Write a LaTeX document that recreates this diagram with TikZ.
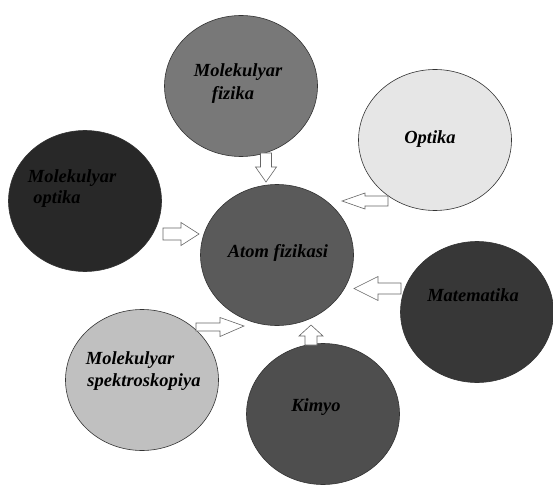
\documentclass[tikz,border=0pt]{standalone}
\usepackage{fontspec}
\setmainfont{Liberation Serif}
\usetikzlibrary{shapes.geometric}
\definecolor{cMF}{RGB}{120,120,120}
\definecolor{cMO}{RGB}{40,40,40}
\definecolor{cAF}{RGB}{90,90,90}
\definecolor{cOP}{RGB}{230,230,230}
\definecolor{cMA}{RGB}{55,55,55}
\definecolor{cMS}{RGB}{192,192,192}
\definecolor{cKI}{RGB}{78,78,78}
\tikzset{
  blob/.style={ellipse, draw=black!80, line width=0.6pt, minimum width=153pt, minimum height=141pt, inner sep=0pt},
  lbl/.style={font=\fontsize{18.5}{22}\selectfont\bfseries\itshape, text=black, inner sep=0pt},
  barrow/.style={draw=black!60, fill=white, line width=0.6pt, line join=miter}
}
\begin{document}
\begin{tikzpicture}[x=1pt,y=-1pt]
\useasboundingbox (0,0) rectangle (553,486);
\fill[white] (0,0) rectangle (553,486);
% circles
\node[blob, fill=cMF] (mf) at (241,86) {};
\node[blob, fill=cOP] (op) at (435,140) {};
\node[blob, fill=cMO] (mo) at (85,201) {};
\node[blob, fill=cAF] (af) at (277,255) {};
\node[blob, fill=cMA] (ma) at (477,312) {};
\node[blob, fill=cMS] (ms) at (142,380) {};
\node[blob, fill=cKI] (ki) at (323,414) {};
% labels
\node[lbl] (mf1) at (238,72) {Molekulyar};
\node[lbl] (mf2) at (233,95) {fizika};
\node[lbl] (op1) at (430,139) {Optika};
\node[lbl] (mo1) at (72,178) {Molekulyar};
\node[lbl] (mo2) at (57,199) {optika};
\node[lbl] (af1) at (278,253) {Atom fizikasi};
\node[lbl] (ma1) at (473,295) {Matematika};
\node[lbl] (ms1) at (130,360) {Molekulyar};
\node[lbl] (ms2) at (144,382) {spektroskopiya};
\node[lbl] (ki1) at (316,407) {Kimyo};
% block arrows
\draw[barrow, shift={(266,153)}, rotate=-90] (0,-5.5) -- (14,-5.5) -- (14,-10.5) -- (29,0) -- (14,10.5) -- (14,5.5) -- (0,5.5) -- cycle;
\draw[barrow, shift={(388,201)}, rotate=180] (0,-5) -- (23,-5) -- (23,-8) -- (46,0) -- (23,8) -- (23,5) -- (0,5) -- cycle;
\draw[barrow, shift={(163,234)}] (0,-6) -- (18,-6) -- (18,-11.5) -- (36,0) -- (18,11.5) -- (18,6) -- (0,6) -- cycle;
\draw[barrow, shift={(401,288.5)}, rotate=180] (0,-5.5) -- (23,-5.5) -- (23,-12) -- (47,0) -- (23,12) -- (23,5.5) -- (0,5.5) -- cycle;
\draw[barrow, shift={(196,327)}] (0,-4) -- (24,-4) -- (24,-9.5) -- (48,-1) -- (24,9.5) -- (24,4) -- (0,4) -- cycle;
\draw[barrow, shift={(311,345)}, rotate=90] (0,-6) -- (9,-6) -- (9,-12) -- (20,0) -- (9,12) -- (9,6) -- (0,6) -- cycle;
\end{tikzpicture}
\end{document}
